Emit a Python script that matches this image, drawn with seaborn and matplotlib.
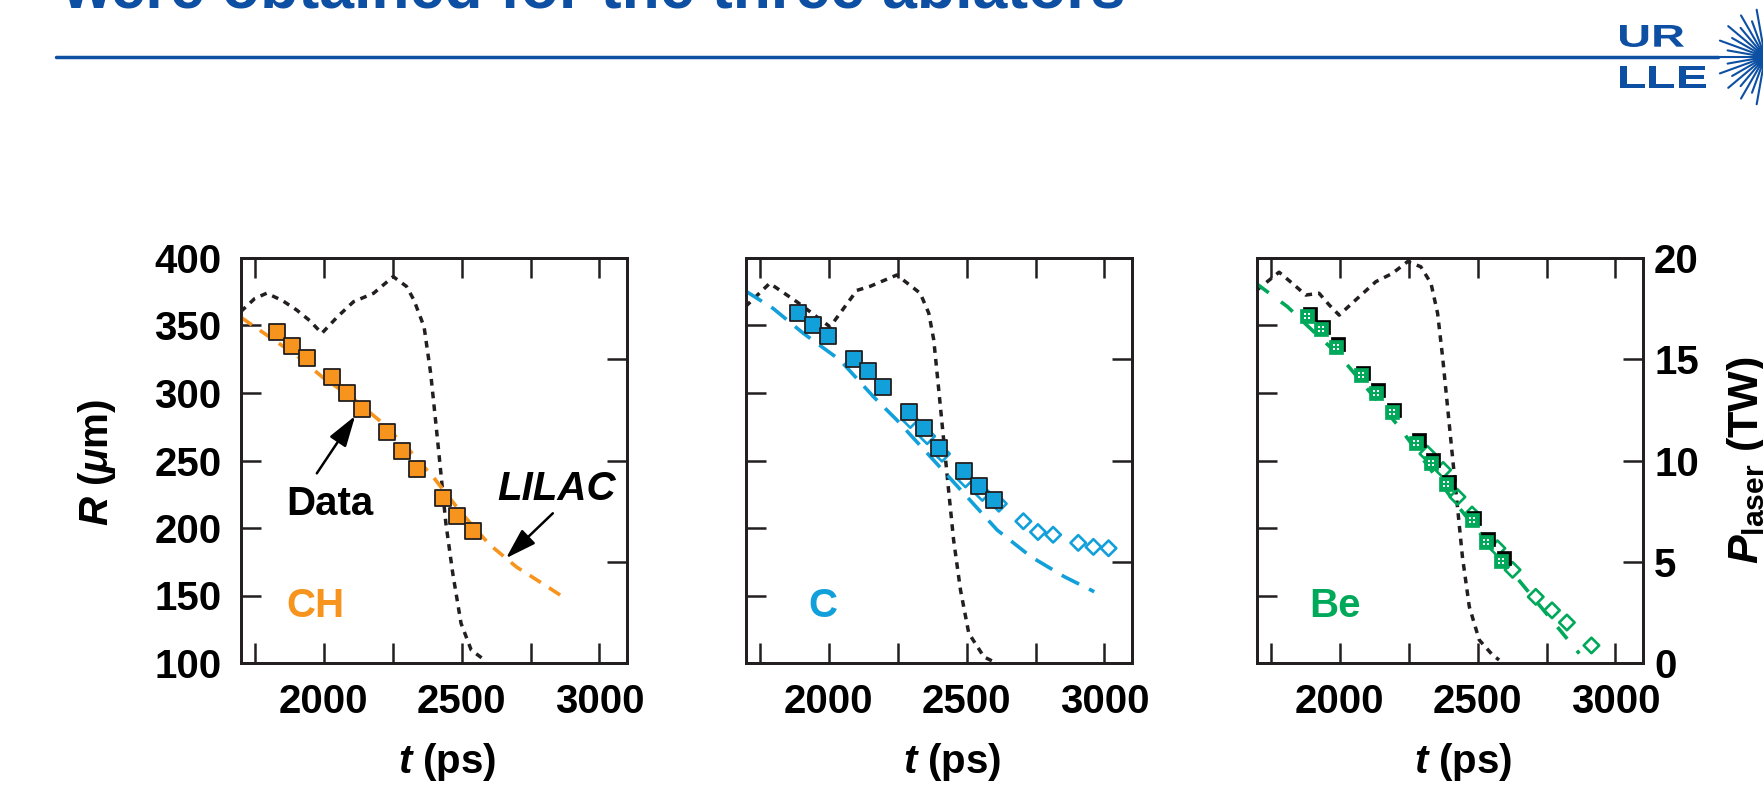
import numpy as np
import pandas as pd
import matplotlib
matplotlib.use("Agg")
import matplotlib.pyplot as plt
import seaborn as sns
from matplotlib.transforms import ScaledTranslation, Affine2D
from matplotlib.textpath import TextPath
from matplotlib.patches import PathPatch, Circle
from matplotlib.lines import Line2D
from matplotlib.font_manager import FontProperties

# ---------------- data ----------------
ch_data_t = [1829, 1885, 1938, 2030, 2084, 2139, 2230, 2285, 2340, 2432, 2485, 2540]
ch_data_r = [345, 335, 326, 312, 300, 288, 271, 257, 244, 222, 209, 198]
ch_lilac_t = [1700, 1800, 1900, 2000, 2100, 2200, 2300, 2400, 2500, 2600, 2700, 2800, 2860]
ch_lilac_r = [356, 342, 328, 311, 297, 280, 260, 237, 211, 188, 171, 158, 150]
ch_laser_t = [1699, 1750, 1793, 1850, 1902, 1950, 1993, 2050, 2108, 2181, 2252, 2300,
              2327, 2364, 2388, 2407, 2425, 2443, 2468, 2498, 2535, 2583]
ch_laser_p = [17.35, 18.0, 18.26, 17.9, 17.43, 16.9, 16.28, 17.1, 17.84, 18.26, 19.08, 18.6,
              17.93, 16.6, 14.3, 11.8, 9.37, 6.9, 4.43, 1.96, 0.64, 0.15]

c_data_t = [1889, 1944, 1999, 2090, 2142, 2197, 2292, 2344, 2399, 2490, 2545, 2599]
c_data_r = [359.5, 350.4, 342.2, 325, 316.3, 304.7, 285.7, 273.9, 259.5, 242.2, 231.3, 220.7]
c_open_t = [2296, 2357, 2411, 2496, 2557, 2617, 2706, 2759, 2814, 2905, 2960, 3015]
c_open_r = [280, 268, 255, 236, 226, 218, 205, 197, 195, 189, 186, 185]
c_lilac_t = [1698, 1798, 1908, 2041, 2162, 2247, 2369, 2490, 2611, 2733, 2854, 2963]
c_lilac_r = [375.6, 362.7, 344.2, 324.4, 297.3, 280, 252.8, 225.7, 198.5, 178.8, 164, 152.8]
c_laser_t = [1698, 1786, 1884, 1932, 2005, 2102, 2150, 2247, 2332, 2363, 2381, 2399, 2417,
             2435, 2453, 2478, 2508, 2563, 2599]
c_laser_p = [17.6, 18.75, 17.84, 17.35, 16.6, 18.4, 18.6, 19.16, 18.26, 17.27, 15.95, 13.5, 11.0,
             8.5, 6.07, 3.6, 1.47, 0.3, 0.06]

be_data_t = [1883, 1931, 1986, 2077, 2131, 2188, 2278, 2331, 2387, 2478, 2530, 2585]
be_data_r = [357, 347.2, 334.3, 313.3, 300.2, 285.7, 263.2, 248.4, 232.4, 205.9, 189.9, 175.8]
be_open_t = [2318, 2375, 2427, 2480, 2572, 2627, 2711, 2770, 2824, 2913]
be_open_r = [255, 243, 223, 210, 185, 169, 149, 139, 130, 113]
be_lilac_t = [1698, 1810, 1913, 1998, 2215, 2421, 2639, 2869]
be_lilac_r = [381, 364, 344, 328, 275, 218, 164, 107]
be_laser_t = [1698, 1780, 1828, 1877, 1925, 1962, 1998, 2058, 2131, 2191, 2246, 2294, 2331,
              2355, 2373, 2391, 2409, 2427, 2445, 2470, 2506, 2554, 2578]
be_laser_p = [18.4, 19.3, 18.75, 18.17, 18.26, 17.68, 17.18, 17.93, 18.83, 19.24, 19.82, 19.57, 18.75,
              17.27, 15.13, 12.66, 10.19, 7.72, 5.25, 2.78, 1.14, 0.4, 0.15]

panel_names = ["CH", "C", "Be"]
xtick_vals = [1750, 2000, 2250, 2500, 2750, 3000]
xtick_labels = ["", "2000", "", "2500", "", "3000"]
ytick_vals = [100, 150, 200, 250, 300, 350, 400]
ytick_labels = ["100", "150", "200", "250", "300", "350", "400"]
ptick_vals = [0, 5, 10, 15, 20]
ptick_labels = ["0", "5", "10", "15", "20"]
title_text = "were obtained for the three ablators"

# ---------------- style ----------------
ORANGE = "#F7941D"
CYAN = "#12A0DA"
GREEN = "#00A85A"
BLUE = "#0D4FA2"
INK = "#231F20"

sns.set_theme(style="white")
plt.rcParams["font.family"] = ["Liberation Sans", "DejaVu Sans"]
plt.rcParams["font.weight"] = "bold"
plt.rcParams["mathtext.fontset"] = "custom"
plt.rcParams["mathtext.it"] = "Liberation Sans:italic:bold"
plt.rcParams["mathtext.rm"] = "Liberation Sans:bold"
plt.rcParams["mathtext.bf"] = "Liberation Sans:bold"
plt.rcParams["lines.scale_dashes"] = False
plt.rcParams["text.color"] = "black"
plt.rcParams["axes.labelcolor"] = "black"
plt.rcParams["xtick.color"] = "black"
plt.rcParams["ytick.color"] = "black"

FS = 29
W, H = 1763, 796
fig = plt.figure(figsize=(W / 100, H / 100), dpi=100)
fig.patch.set_facecolor("white")

panels = {
    "CH": dict(color=ORANGE, data=(ch_data_t, ch_data_r), open=None,
               lilac=(ch_lilac_t, ch_lilac_r), laser=(ch_laser_t, ch_laser_p),
               dash=[9.5, 7.0], lw=2.6),
    "C": dict(color=CYAN, data=(c_data_t, c_data_r), open=(c_open_t, c_open_r),
              lilac=(c_lilac_t, c_lilac_r), laser=(c_laser_t, c_laser_p),
              dash=[14, 8], lw=2.6),
    "Be": dict(color=GREEN, data=(be_data_t, be_data_r), open=(be_open_t, be_open_r),
               lilac=(be_lilac_t, be_lilac_r), laser=(be_laser_t, be_laser_p),
               dash=[11, 11], lw=2.6),
}

x_lefts = [241, 746, 1257]
ax_w, ax_top, ax_bot = 386, 258, 663
arrow_style = "-|>,head_length=0.7,head_width=0.22"

for i, name in enumerate(panel_names):
    cfg = panels[name]
    ax = fig.add_axes([x_lefts[i] / W, 1 - ax_bot / H, ax_w / W, (ax_bot - ax_top) / H])
    axp = ax.twinx()
    ax.set_zorder(axp.get_zorder() + 1)
    ax.patch.set_visible(False)

    # laser power (right axis)
    sns.lineplot(x=cfg["laser"][0], y=cfg["laser"][1], ax=axp, color=INK, lw=2.5,
                 estimator=None, sort=False)
    axp.lines[-1].set_dashes([4.8, 4.4])

    # LILAC simulation
    sns.lineplot(x=cfg["lilac"][0], y=cfg["lilac"][1], ax=ax, color=cfg["color"],
                 lw=cfg["lw"], estimator=None, sort=False)
    ax.lines[-1].set_dashes(cfg["dash"])

    # open diamonds
    if cfg["open"] is not None:
        sns.scatterplot(x=cfg["open"][0], y=cfg["open"][1], ax=ax, marker="D", s=62,
                        color=cfg["color"], edgecolor=cfg["color"], linewidth=1.9, zorder=3)
        ax.collections[-1].set_facecolor("none")

    # data squares
    if name == "Be":
        sns.scatterplot(x=cfg["data"][0], y=cfg["data"][1], ax=ax, marker="s", s=100,
                        color="black", edgecolor="black", linewidth=0.5, zorder=4)
        ax.collections[-1].set_offset_transform(
            ax.transData + ScaledTranslation(2.5 / 100, 2.5 / 100, fig.dpi_scale_trans))
        sns.scatterplot(x=cfg["data"][0], y=cfg["data"][1], ax=ax, marker="s", s=100,
                        color=GREEN, edgecolor=GREEN, linewidth=0.5, zorder=5)
        sns.scatterplot(x=cfg["data"][0], y=cfg["data"][1], ax=ax, marker="s", s=24,
                        color="white", edgecolor="white", linewidth=0, zorder=6)
        sns.scatterplot(x=cfg["data"][0], y=cfg["data"][1], ax=ax, marker="+", s=36,
                        color=GREEN, linewidth=1.4, zorder=7)
    else:
        sns.scatterplot(x=cfg["data"][0], y=cfg["data"][1], ax=ax, marker="s", s=118,
                        color=cfg["color"], edgecolor=INK, linewidth=1.3, zorder=5)

    # axes setup
    ax.set_xlim(1700, 3100)
    ax.set_ylim(100, 400)
    axp.set_ylim(0, 20)
    ax.set_xticks(xtick_vals)
    ax.set_xticklabels(xtick_labels)
    ax.set_yticks(ytick_vals)
    ax.set_yticklabels(ytick_labels if i == 0 else [""] * len(ytick_vals))
    axp.set_yticks(ptick_vals)
    axp.set_yticklabels(ptick_labels if i == 2 else [""] * len(ptick_vals))
    ax.set_xlabel("")
    ax.set_ylabel("")
    axp.set_ylabel("")
    ax.tick_params(axis="x", direction="in", top=True, bottom=True, length=14.4, width=1.8,
                   color=INK, labelsize=FS, pad=14.5)
    ax.tick_params(axis="y", direction="in", left=True, right=False, length=14.4, width=1.8,
                   color=INK, labelsize=FS, pad=14)
    axp.tick_params(axis="y", direction="in", right=True, left=False, length=14.4, width=1.8,
                    color=INK, labelsize=FS, pad=8)
    for a in (ax, axp):
        for sp in a.spines.values():
            sp.set_visible(True)
            sp.set_linewidth(2.0)
            sp.set_color(INK)
    for lab in ax.get_xticklabels() + ax.get_yticklabels() + axp.get_yticklabels():
        lab.set_fontweight("bold")
        lab.set_color("black")

    # panel name
    ax.text({"CH": 1865, "C": 1928, "Be": 1889}[name], 134, name, color=cfg["color"],
            fontsize=FS, fontweight="bold", ha="left", va="baseline", zorder=8)
    # x label
    ax.text(0.533, -0.272, "$t$ (ps)", transform=ax.transAxes, fontsize=FS,
            fontweight="bold", ha="center", va="baseline", color="black")

    if name == "CH":
        ax.text(1865, 209.6, "Data", fontsize=FS, fontweight="bold", ha="left",
                va="baseline", zorder=8, color="black")
        ax.annotate("", xy=(2114, 283), xytext=(1975, 240.5),
                    arrowprops=dict(arrowstyle=arrow_style, color="black", lw=1.8,
                                    mutation_scale=27, shrinkA=0, shrinkB=0), zorder=8)
        ax.text(2631, 220.7, "LILAC", fontsize=FS, fontweight="bold", fontstyle="italic",
                ha="left", va="baseline", zorder=8, clip_on=False, color="black")
        ax.annotate("", xy=(2661, 177.6), xytext=(2831, 210.9),
                    arrowprops=dict(arrowstyle=arrow_style, color="black", lw=1.8,
                                    mutation_scale=27, shrinkA=0, shrinkB=0), zorder=8)

# axis labels
fig.text(76 / W, 1 - 462 / H, "$R$ ($\\mu$m)", rotation=90, fontsize=FS, fontweight="bold",
         ha="left", va="center", color="black")
fig.text(1725 / W, 1 - 460 / H, "$P_{\\mathrm{laser}}$ (TW)", rotation=90, fontsize=31,
         fontweight="bold", ha="left", va="center", color="black")

# title (cut off at top, as in the slide) and rule
fig.text(62 / W, 1 - 8 / H, title_text, color=BLUE, fontsize=45, fontweight="bold",
         ha="left", va="baseline")
fig.add_artist(Line2D([56 / W, 1718 / W], [1 - 57 / H, 1 - 57 / H], color=BLUE, lw=2.5,
                      transform=fig.transFigure))

# logo
fp = FontProperties(family="Liberation Sans", weight="bold")
for txt, x0, ybot, wpx, hpx in [("UR", 1620, 47, 64, 22), ("LLE", 1620, 88, 86, 22)]:
    tp = TextPath((0, 0), txt, size=1, prop=fp)
    ext = tp.get_extents()
    sx, sy = wpx / ext.width, hpx / ext.height
    tr = Affine2D().translate(-ext.x0, -ext.y0).scale(sx, sy).translate(x0, H - ybot)
    fig.add_artist(PathPatch(tp, transform=tr, color=BLUE, lw=0))

cx, cy = 1765, H - 57
angles = np.linspace(0, 2 * np.pi, 36, endpoint=False)
for k, a in enumerate(angles):
    r_out = 48 if k % 2 == 0 else 38
    fig.add_artist(Line2D([cx + 6 * np.cos(a), cx + r_out * np.cos(a)],
                          [cy + 6 * np.sin(a), cy + r_out * np.sin(a)],
                          color=BLUE, lw=1.5, transform=Affine2D()))
fig.add_artist(Circle((cx, cy), 10, color=BLUE, transform=Affine2D()))

fig.savefig("out.png", dpi=100, facecolor="white")
